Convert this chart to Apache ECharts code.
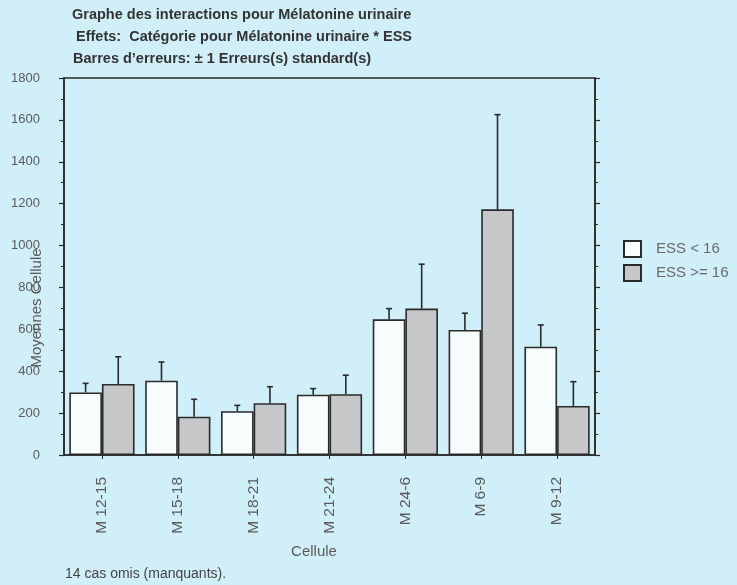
<!DOCTYPE html>
<html>
<head>
<meta charset="utf-8">
<script src="https://cdn.jsdelivr.net/npm/echarts@6/dist/echarts.min.js"></script>
<style>
html,body{margin:0;padding:0;background:#d0eff9;}
#chart{width:737px;height:585px;}
</style>
</head>
<body>
<div id="chart"></div>
<script>
var categories = ['M 12-15','M 15-18','M 18-21','M 21-24','M 24-6','M 6-9','M 9-12'];
var meanLow  = [299, 355, 209, 288, 648, 597, 517];
var errLow   = [342, 444, 237, 317, 699, 677, 621];
var meanHigh = [339, 183, 247, 290, 699, 1173, 234];
var errHigh  = [469, 266, 326, 381, 911, 1625, 350];
var yTicks = [0, 1800, 200];
var seriesNames = ['ESS < 16', 'ESS >= 16'];
var titleLines = [
  'Graphe des interactions pour Mélatonine urinaire',
  'Effets:  Catégorie pour Mélatonine urinaire * ESS',
  'Barres d\u2019erreurs: \u00b1 1 Erreurs(s) standard(s)'
];
var yName = 'Moyennes Cellule';
var xName = 'Cellule';
var footNote = '14 cas omis (manquants).';

var FONT = '"Liberation Sans", Arial, sans-serif';
var CAT_GAP = 0.14;

function errRender(side) {
  return function (params, api) {
    var idx = api.value(0);
    var mean = api.value(1);
    var top = api.value(2);
    var band = api.size([1, 0])[0];
    var barW = band * (1 - CAT_GAP) / 2;
    var c = api.coord([idx, mean]);
    var t = api.coord([idx, top]);
    var x = c[0] + side * barW / 2;
    var cap = 3;
    var st = {stroke: '#2a2a2a', lineWidth: 1.6};
    return {
      type: 'group',
      children: [
        {type: 'line', shape: {x1: x, y1: c[1], x2: x, y2: t[1]}, style: st},
        {type: 'line', shape: {x1: x - cap, y1: t[1], x2: x + cap, y2: t[1]}, style: st}
      ]
    };
  };
}

function errData(means, errs) {
  return means.map(function (m, i) { return [i, m, errs[i]]; });
}

var chart = echarts.init(document.getElementById('chart'));
var axisCommon = {
  type: 'value', min: yTicks[0], max: yTicks[1], interval: yTicks[2],
  axisLine: {show: true, lineStyle: {color: '#2a2a2a', width: 1.6}},
  axisTick: {show: true, length: 5, lineStyle: {color: '#2a2a2a', width: 1.2}},
  minorTick: {show: true, splitNumber: 2, length: 3, lineStyle: {color: '#2a2a2a', width: 1}},
  splitLine: {show: false}
};
chart.setOption({
  backgroundColor: '#d0eff9',
  animation: false,
  textStyle: {fontFamily: FONT},
  grid: {left: 64, right: 142, top: 78, bottom: 130, show: true, borderColor: '#2a2a2a', borderWidth: 1.6, backgroundColor: 'transparent'},
  legend: {
    data: seriesNames, orient: 'vertical', left: 623, top: 240, padding: 0,
    itemWidth: 17, itemHeight: 16, itemGap: 6, icon: 'rect',
    textStyle: {fontSize: 15, color: '#6a6a6a', fontFamily: FONT, padding: [0, 0, 0, 10]}
  },
  xAxis: {
    type: 'category', data: categories,
    axisLine: {show: true, lineStyle: {color: '#2a2a2a', width: 1.6}},
    axisTick: {show: true, alignWithLabel: true, length: 4, lineStyle: {color: '#2a2a2a'}},
    axisLabel: {rotate: 90, fontSize: 15.5, color: '#5a5a5a', margin: 22, fontFamily: FONT}
  },
  yAxis: [
    Object.assign({}, axisCommon, {position: 'left',
      axisLabel: {fontSize: 13, color: '#5a5a5a', margin: 24, fontFamily: FONT,
        formatter: function (v) { return String(v); }}}),
    Object.assign({}, axisCommon, {position: 'right', axisLabel: {show: false}})
  ],
  series: [
    {name: seriesNames[0], type: 'bar', data: meanLow, barGap: '0%', barCategoryGap: (CAT_GAP * 100) + '%',
     itemStyle: {color: '#f7fcfd', borderColor: '#2a2a2a', borderWidth: 1.6}},
    {name: seriesNames[1], type: 'bar', data: meanHigh, barGap: '0%', barCategoryGap: (CAT_GAP * 100) + '%',
     itemStyle: {color: '#c5c7c8', borderColor: '#2a2a2a', borderWidth: 1.6}},
    {type: 'custom', renderItem: errRender(-1), data: errData(meanLow, errLow), z: 5, silent: true},
    {type: 'custom', renderItem: errRender(1), data: errData(meanHigh, errHigh), z: 5, silent: true}
  ],
  graphic: [
    {type: 'text', left: 72, top: 7, style: {text: titleLines[0], font: 'bold 14.5px ' + FONT, fill: '#333'}},
    {type: 'text', left: 76, top: 29, style: {text: titleLines[1], font: 'bold 14.5px ' + FONT, fill: '#333'}},
    {type: 'text', left: 73, top: 51, style: {text: titleLines[2], font: 'bold 14.5px ' + FONT, fill: '#333'}},
    {type: 'text', x: 37, y: 308, rotation: Math.PI / 2,
     style: {text: yName, font: '15px ' + FONT, fill: '#5a5a5a', align: 'center', verticalAlign: 'middle'}},
    {type: 'text', x: 314, y: 552, style: {text: xName, font: '15px ' + FONT, fill: '#5a5a5a', align: 'center', verticalAlign: 'middle'}},
    {type: 'text', x: 65, y: 574, style: {text: footNote, font: '14px ' + FONT, fill: '#444', align: 'left', verticalAlign: 'middle'}}
  ]
});
</script>
</body>
</html>
